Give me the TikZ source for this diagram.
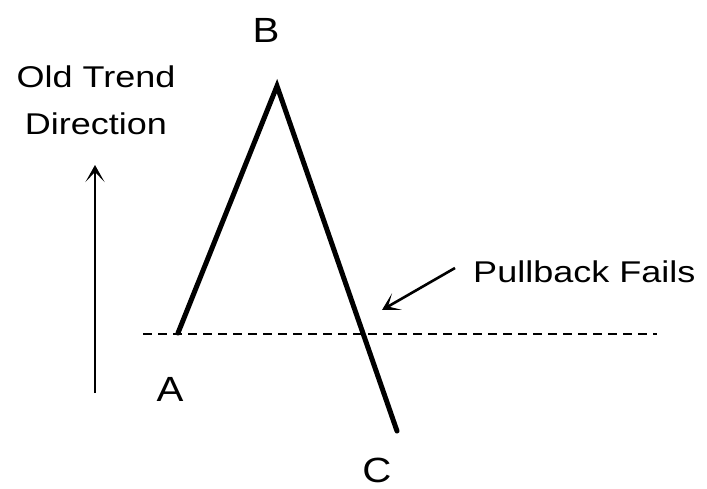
\documentclass[tikz,border=0pt]{standalone}
\usepackage{fontspec}
\setmainfont{Liberation Sans}
\usetikzlibrary{arrows.meta}
\begin{document}
\begin{tikzpicture}[x=1pt,y=-1pt,
  lbl/.style={font=\fontsize{30}{36}\selectfont, xscale=1.2, transform shape, inner sep=0pt, align=center},
  pt/.style={font=\fontsize{35}{40}\selectfont, xscale=1.15, transform shape, inner sep=0pt},
  leg/.style={line width=5pt, line cap=round, line join=miter},
  arr/.style={line width=2.6pt, -{Stealth[length=17pt,width=19pt,inset=10pt]}}]
\useasboundingbox (0,0) rectangle (707,489);
\fill[white] (0,0) rectangle (707,489);
\coordinate (A) at (178,333);
\coordinate (B) at (277,86);
\coordinate (C) at (397,431);
\coordinate (d1) at (143,334);
\coordinate (d2) at (657,334);
\draw[line width=1.3pt, dash pattern=on 9pt off 6pt] (d1) -- (d2);
\draw[leg] (A) -- (B) -- (C);
\node[pt] (lA) at (170,389) {A};
\node[pt] (lB) at (266,30) {B};
\node[pt] (lC) at (377,470) {C};
\node[lbl, anchor=base] (t1) at (96,88) {Old Trend};
\node[lbl, anchor=base] (t2) at (96,135) {Direction};
\coordinate (u1) at (95,393);
\coordinate (u2) at (95,165);
\draw[arr] (u1) -- (u2);
\node[lbl, anchor=base west] (pf) at (473,282) {Pullback Fails};
\coordinate (p1) at (455,268);
\coordinate (p2) at (382,310);
\draw[arr] (p1) -- (p2);
\end{tikzpicture}
\end{document}
